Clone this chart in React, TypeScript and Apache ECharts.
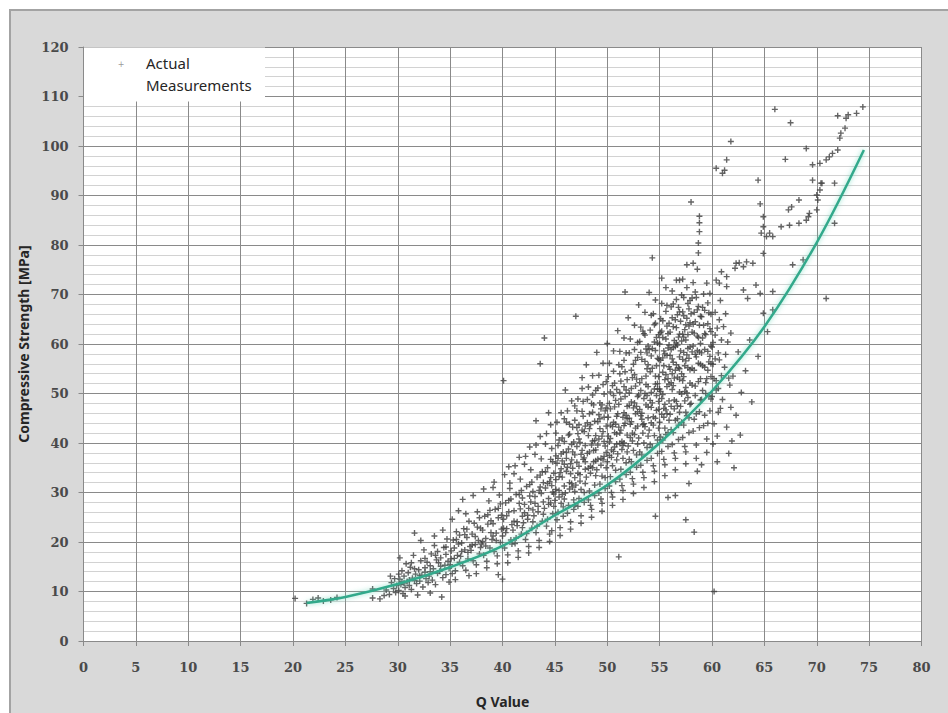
import React, { useEffect, useRef } from "react";
import * as echarts from "echarts";

// ---- Data ----
const xTicks = [0, 5, 10, 15, 20, 25, 30, 35, 40, 45, 50, 55, 60, 65, 70, 75, 80];
const yTicks = [0, 10, 20, 30, 40, 50, 60, 70, 80, 90, 100, 110, 120];

const fitCurve: [number, number][] = [
  [21.3, 7.7], [25, 8.9], [30, 11.5], [35, 14.9], [40, 19.2], [45, 25.4],
  [50, 31.5], [55, 40.0], [60, 50.5], [65, 63.5], [70, 80.5], [74.5, 99.2],
];

const ptsTail: [number, number][] = [
  [20.2, 8.6], [21.3, 7.6], [21.9, 8.4], [22.4, 8.7], [22.9, 8.1], [23.6, 8.3], [24.2, 8.8],
  [27.6, 8.7], [27.6, 10.5], [28.3, 8.5], [28.9, 10.3], [29.2, 9.4], [29.4, 11.8], [29.6, 10.6],
  [29.7, 12.6], [29.8, 9.8], [29.9, 11.2], [28.7, 9.2], [29.3, 13.1],
];

const pts30to35: [number, number][] = [
  [30.1, 10.2], [30.2, 12.5], [30.3, 11.4], [30.4, 14.2], [30.5, 9.6], [30.6, 13.1], [30.7, 10.8], [30.8, 15.6], [30.9, 12.0], [30.2, 16.8], [30.4, 11.9], [30.7, 9.1],
  [31.0, 13.8], [31.1, 11.2], [31.2, 14.9], [31.3, 10.4], [31.4, 12.7], [31.5, 17.3], [31.6, 21.8], [31.7, 13.5], [31.8, 11.6], [31.9, 9.3], [31.3, 15.8], [31.6, 12.2],
  [32.0, 14.4], [32.1, 12.1], [32.2, 16.2], [32.3, 13.3], [32.4, 10.9], [32.5, 18.4], [32.6, 14.8], [32.7, 12.6], [32.8, 15.9], [32.9, 11.8], [32.2, 20.3], [32.6, 13.9],
  [33.0, 13.1], [33.1, 15.2], [33.2, 17.6], [33.3, 12.3], [33.4, 14.6], [33.5, 19.3], [33.6, 11.4], [33.7, 16.4], [33.8, 13.7], [33.9, 15.8], [33.1, 9.7], [33.5, 21.2], [33.8, 18.1],
  [34.0, 14.1], [34.1, 16.8], [34.2, 8.9], [34.3, 12.8], [34.4, 18.9], [34.5, 15.3], [34.6, 13.4], [34.7, 20.6], [34.8, 16.1], [34.9, 14.7], [34.3, 22.4], [34.6, 17.5], [34.9, 11.9],
];

const pts35to40: [number, number][] = [
  [35.0, 15.4], [35.1, 18.2], [35.2, 13.6], [35.3, 20.4], [35.4, 16.7], [35.5, 14.2], [35.6, 22.1], [35.7, 17.3], [35.8, 19.6], [35.9, 15.9], [35.2, 24.6], [35.5, 12.4], [35.8, 26.3], [35.4, 18.8], [35.9, 21.4],
  [36.0, 17.1], [36.1, 19.8], [36.2, 15.2], [36.3, 22.7], [36.4, 18.4], [36.5, 14.3], [36.6, 20.9], [36.7, 16.6], [36.8, 24.2], [36.9, 19.1], [36.2, 28.6], [36.5, 25.7], [36.8, 13.2], [36.4, 21.5], [36.7, 17.9],
  [37.0, 18.3], [37.1, 21.6], [37.2, 16.2], [37.3, 23.8], [37.4, 19.5], [37.5, 15.4], [37.6, 26.1], [37.7, 20.3], [37.8, 17.6], [37.9, 22.8], [37.2, 29.4], [37.5, 13.6], [37.8, 24.9], [37.4, 21.1], [37.9, 18.9],
  [38.0, 19.6], [38.1, 22.4], [38.2, 17.3], [38.3, 25.2], [38.4, 20.7], [38.5, 16.1], [38.6, 23.6], [38.7, 28.3], [38.8, 18.8], [38.9, 21.9], [38.2, 30.7], [38.5, 14.8], [38.8, 26.4], [38.4, 19.2], [38.9, 24.3],
  [39.0, 20.5], [39.1, 23.7], [39.2, 18.1], [39.3, 26.6], [39.4, 21.8], [39.5, 17.2], [39.6, 24.9], [39.7, 29.5], [39.8, 19.9], [39.9, 22.6], [39.2, 32.1], [39.5, 15.6], [39.8, 27.7], [39.4, 20.3], [39.9, 25.4], [39.6, 13.4], [39.1, 31.0],
];

const pts40to45: [number, number][] = [
  [40.0, 21.2], [40.1, 24.6], [40.2, 18.8], [40.3, 27.9], [40.4, 22.7], [40.5, 17.4], [40.6, 26.1], [40.7, 30.8], [40.8, 20.4], [40.9, 23.5], [40.2, 33.6], [40.5, 15.8], [40.8, 28.7], [40.4, 25.3], [40.9, 19.6], [40.6, 35.2], [40.3, 21.9], [40.7, 31.9], [40.1, 52.6], [40.0, 12.5],
  [41.0, 22.4], [41.1, 26.3], [41.2, 19.7], [41.3, 29.6], [41.4, 24.1], [41.5, 18.2], [41.6, 27.8], [41.7, 32.7], [41.8, 21.6], [41.9, 25.2], [41.2, 35.4], [41.5, 16.9], [41.8, 30.4], [41.4, 23.3], [41.9, 28.9], [41.6, 37.1], [41.3, 20.8], [41.7, 26.7], [41.1, 33.8], [41.9, 22.9],
  [42.0, 23.9], [42.1, 27.6], [42.2, 20.5], [42.3, 31.2], [42.4, 25.4], [42.5, 19.1], [42.6, 29.3], [42.7, 34.6], [42.8, 22.8], [42.9, 26.5], [42.2, 37.3], [42.5, 17.8], [42.8, 32.1], [42.4, 24.6], [42.9, 30.2], [42.6, 39.2], [42.3, 21.7], [42.7, 28.1], [42.1, 35.7], [42.9, 24.1], [42.5, 26.8],
  [43.0, 25.3], [43.1, 29.2], [43.2, 21.9], [43.3, 33.1], [43.4, 27.2], [43.5, 20.3], [43.6, 31.1], [43.7, 36.8], [43.8, 24.2], [43.9, 28.1], [43.2, 39.6], [43.5, 18.9], [43.8, 34.2], [43.4, 26.1], [43.9, 32.0], [43.6, 41.3], [43.3, 23.2], [43.7, 29.8], [43.1, 37.7], [43.9, 25.6], [43.5, 30.4], [43.6, 56.0], [43.2, 44.5],
  [44.0, 26.8], [44.1, 30.9], [44.2, 23.2], [44.3, 35.0], [44.4, 28.8], [44.5, 21.6], [44.6, 33.0], [44.7, 38.9], [44.8, 25.7], [44.9, 29.7], [44.2, 41.9], [44.5, 20.1], [44.8, 36.2], [44.4, 27.6], [44.9, 33.9], [44.6, 43.7], [44.3, 24.6], [44.7, 31.4], [44.1, 39.8], [44.9, 27.2], [44.5, 32.2], [44.0, 61.2], [44.4, 46.1], [44.7, 22.3],
];

const pts45to50: [number, number][] = [
  [45.0, 28.4], [45.1, 32.6], [45.2, 24.5], [45.3, 36.9], [45.4, 30.4], [45.5, 22.9], [45.6, 34.8], [45.7, 41.0], [45.8, 27.1], [45.9, 31.3], [45.2, 44.2], [45.5, 21.3], [45.8, 38.2], [45.4, 29.1], [45.9, 35.7], [45.6, 46.1], [45.3, 26.0], [45.7, 33.1], [45.1, 42.0], [45.9, 28.7], [45.5, 34.0], [45.3, 39.5], [45.8, 25.2],
  [46.0, 29.9], [46.1, 34.3], [46.2, 25.8], [46.3, 38.8], [46.4, 32.0], [46.5, 24.1], [46.6, 36.6], [46.7, 43.2], [46.8, 28.5], [46.9, 33.0], [46.2, 46.5], [46.5, 22.6], [46.8, 40.2], [46.4, 30.7], [46.9, 37.6], [46.6, 48.5], [46.3, 27.4], [46.7, 34.9], [46.1, 44.2], [46.9, 30.2], [46.5, 35.8], [46.3, 41.6], [46.8, 26.6], [46.0, 50.7], [46.6, 31.8],
  [47.0, 31.5], [47.1, 36.1], [47.2, 27.2], [47.3, 40.8], [47.4, 33.6], [47.5, 25.3], [47.6, 38.5], [47.7, 45.4], [47.8, 30.0], [47.9, 34.7], [47.2, 48.9], [47.5, 23.8], [47.8, 42.3], [47.4, 32.3], [47.9, 39.5], [47.6, 51.0], [47.3, 28.8], [47.7, 36.7], [47.1, 46.5], [47.9, 31.8], [47.5, 37.7], [47.3, 43.7], [47.8, 28.0], [47.0, 65.6], [47.6, 53.2], [47.2, 33.9],
  [48.0, 33.1], [48.1, 37.9], [48.2, 28.5], [48.3, 42.9], [48.4, 35.3], [48.5, 26.6], [48.6, 40.4], [48.7, 47.7], [48.8, 31.5], [48.9, 36.4], [48.2, 51.3], [48.5, 25.0], [48.8, 44.4], [48.4, 33.9], [48.9, 41.5], [48.6, 53.6], [48.3, 30.3], [48.7, 38.5], [48.1, 48.8], [48.9, 33.4], [48.5, 39.6], [48.3, 45.9], [48.8, 29.4], [48.0, 55.8], [48.6, 35.0], [48.4, 27.4],
  [49.0, 34.6], [49.1, 39.6], [49.2, 29.9], [49.3, 44.9], [49.4, 36.9], [49.5, 27.8], [49.6, 42.3], [49.7, 49.9], [49.8, 33.0], [49.9, 38.1], [49.2, 53.7], [49.5, 26.2], [49.8, 46.5], [49.4, 35.5], [49.9, 43.4], [49.6, 56.1], [49.3, 31.7], [49.7, 40.3], [49.1, 51.1], [49.9, 35.0], [49.5, 41.4], [49.3, 48.1], [49.8, 30.8], [49.0, 58.3], [49.6, 36.6], [49.4, 28.7], [49.7, 45.2],
];

const pts50to55: [number, number][] = [
  [50.0, 36.2], [50.1, 41.4], [50.2, 31.3], [50.3, 46.9], [50.4, 38.6], [50.5, 29.1], [50.6, 44.2], [50.7, 52.1], [50.8, 34.5], [50.9, 39.8], [50.2, 56.1], [50.5, 27.4], [50.8, 48.6], [50.4, 37.1], [50.9, 45.4], [50.6, 58.6], [50.3, 33.2], [50.7, 42.1], [50.1, 53.4], [50.9, 36.6], [50.5, 43.3], [50.3, 50.3], [50.8, 32.2], [50.0, 60.1], [50.6, 38.3], [50.4, 30.0], [50.7, 47.3], [50.2, 40.2], [50.5, 35.4],
  [51.0, 37.8], [51.1, 43.2], [51.2, 32.7], [51.3, 48.9], [51.4, 40.3], [51.5, 30.4], [51.6, 46.1], [51.7, 54.4], [51.8, 36.0], [51.9, 41.6], [51.2, 58.5], [51.5, 28.6], [51.8, 50.7], [51.4, 38.7], [51.9, 47.4], [51.6, 61.2], [51.3, 34.7], [51.7, 44.0], [51.1, 55.8], [51.9, 38.2], [51.5, 45.2], [51.3, 52.5], [51.8, 33.6], [51.0, 62.7], [51.6, 40.0], [51.4, 31.4], [51.7, 49.4], [51.2, 42.0], [51.5, 36.9], [51.1, 17.0], [51.7, 70.5],
  [52.0, 39.4], [52.1, 45.0], [52.2, 34.1], [52.3, 51.0], [52.4, 42.0], [52.5, 31.7], [52.6, 48.1], [52.7, 56.7], [52.8, 37.6], [52.9, 43.4], [52.2, 61.0], [52.5, 29.8], [52.8, 52.9], [52.4, 40.4], [52.9, 49.4], [52.6, 63.8], [52.3, 36.2], [52.7, 45.9], [52.1, 58.2], [52.9, 39.8], [52.5, 47.1], [52.3, 54.7], [52.8, 35.1], [52.0, 65.3], [52.6, 41.7], [52.4, 32.8], [52.7, 51.5], [52.2, 43.8], [52.5, 38.5], [52.9, 57.3], [52.1, 36.7],
  [53.0, 41.0], [53.1, 46.8], [53.2, 35.5], [53.3, 53.0], [53.4, 43.7], [53.5, 33.0], [53.6, 50.0], [53.7, 59.0], [53.8, 39.1], [53.9, 45.1], [53.2, 63.4], [53.5, 31.0], [53.8, 55.0], [53.4, 42.0], [53.9, 51.4], [53.6, 66.4], [53.3, 37.6], [53.7, 47.7], [53.1, 60.5], [53.9, 41.4], [53.5, 49.0], [53.3, 56.9], [53.8, 36.5], [53.0, 67.9], [53.6, 43.3], [53.4, 34.1], [53.7, 53.5], [53.2, 45.5], [53.5, 40.0], [53.9, 59.6], [53.1, 38.2], [53.6, 61.8],
  [54.0, 42.6], [54.1, 48.6], [54.2, 36.9], [54.3, 55.1], [54.4, 45.3], [54.5, 34.3], [54.6, 51.9], [54.7, 61.3], [54.8, 40.6], [54.9, 46.8], [54.2, 65.8], [54.5, 32.2], [54.8, 57.1], [54.4, 43.6], [54.9, 53.4], [54.6, 68.9], [54.3, 39.1], [54.7, 49.6], [54.1, 62.8], [54.9, 43.0], [54.5, 50.9], [54.3, 59.1], [54.8, 37.9], [54.0, 70.4], [54.6, 45.0], [54.4, 35.4], [54.7, 55.6], [54.2, 47.2], [54.5, 41.5], [54.9, 61.9], [54.1, 39.7], [54.6, 64.2], [54.3, 77.4], [54.6, 25.2], [54.8, 52.0],
];

const pts55to58: [number, number][] = [
  [55.0, 44.2], [55.1, 50.4], [55.2, 38.3], [55.3, 57.2], [55.4, 47.0], [55.5, 35.6], [55.6, 53.8], [55.7, 63.6], [55.8, 42.1], [55.9, 48.5], [55.2, 68.2], [55.5, 33.4], [55.8, 59.2], [55.4, 45.2], [55.9, 55.4], [55.6, 71.4], [55.3, 40.6], [55.7, 51.4], [55.1, 65.1], [55.9, 44.6], [55.5, 52.8], [55.3, 61.3], [55.8, 39.3], [55.0, 60.0], [55.6, 46.7], [55.4, 36.7], [55.7, 57.7], [55.2, 49.0], [55.5, 43.0], [55.9, 64.2], [55.1, 41.2], [55.6, 66.6], [55.3, 54.3], [55.8, 29.0], [55.4, 58.6], [55.2, 73.3], [55.7, 45.9],
  [56.0, 45.8], [56.1, 52.2], [56.2, 39.7], [56.3, 59.3], [56.4, 48.7], [56.5, 36.9], [56.6, 55.8], [56.7, 65.9], [56.8, 43.6], [56.9, 50.3], [56.2, 70.7], [56.5, 34.6], [56.8, 61.4], [56.4, 46.9], [56.9, 57.4], [56.6, 72.9], [56.3, 42.1], [56.7, 53.3], [56.1, 67.5], [56.9, 46.2], [56.5, 54.7], [56.3, 63.5], [56.8, 40.7], [56.0, 62.4], [56.6, 48.4], [56.4, 38.0], [56.7, 59.8], [56.2, 50.8], [56.5, 44.6], [56.9, 66.5], [56.1, 42.7], [56.6, 69.0], [56.3, 56.3], [56.5, 29.4], [56.4, 60.7], [56.9, 72.9], [56.7, 47.5], [56.2, 57.0],
  [57.0, 47.4], [57.1, 54.0], [57.2, 41.1], [57.3, 61.4], [57.4, 50.4], [57.5, 38.2], [57.6, 57.8], [57.7, 68.2], [57.8, 45.1], [57.9, 52.1], [57.2, 73.1], [57.5, 35.8], [57.8, 63.6], [57.4, 48.5], [57.9, 59.4], [57.6, 76.0], [57.3, 43.6], [57.7, 55.2], [57.1, 69.9], [57.9, 47.8], [57.5, 56.6], [57.3, 65.7], [57.8, 42.1], [57.0, 64.6], [57.6, 50.1], [57.4, 39.3], [57.7, 61.9], [57.2, 52.6], [57.5, 46.2], [57.9, 68.8], [57.1, 44.2], [57.6, 71.4], [57.3, 58.3], [57.5, 24.5], [57.4, 62.9], [57.8, 31.8], [57.7, 49.2], [57.2, 56.9],
];

const pts58to62: [number, number][] = [
  [58.0, 48.0], [58.1, 55.1], [58.2, 42.4], [58.3, 62.2], [58.4, 51.5], [58.5, 39.6], [58.6, 58.7], [58.7, 67.6], [58.8, 46.3], [58.9, 53.0], [58.2, 72.4], [58.5, 36.9], [58.8, 63.8], [58.4, 49.6], [58.9, 60.1], [58.6, 75.1], [58.3, 44.8], [58.7, 56.1], [58.1, 69.3], [58.9, 48.7], [58.5, 57.4], [58.3, 66.4], [58.8, 43.1], [58.0, 88.7], [58.8, 85.8], [58.8, 84.5], [58.8, 82.7], [58.7, 80.4], [58.7, 78.4], [58.2, 76.3], [58.3, 22.0], [58.6, 34.3], [58.4, 64.5],
  [59.0, 48.8], [59.1, 55.6], [59.2, 43.5], [59.3, 62.1], [59.4, 52.2], [59.5, 40.8], [59.6, 58.5], [59.7, 66.3], [59.8, 46.5], [59.9, 53.4], [59.2, 70.1], [59.5, 38.1], [59.8, 63.1], [59.4, 50.0], [59.9, 59.6], [59.5, 72.3], [59.3, 45.6], [59.7, 56.4], [59.1, 67.4], [59.9, 48.9], [59.6, 44.0], [59.8, 70.2], [59.0, 35.6],
  [60.0, 49.4], [60.1, 55.9], [60.2, 43.9], [60.3, 61.8], [60.4, 52.6], [60.5, 41.4], [60.6, 58.2], [60.7, 64.9], [60.8, 47.0], [60.9, 53.6], [60.2, 10.0], [60.4, 72.9], [60.7, 72.3], [60.9, 74.6], [60.5, 36.2], [60.8, 68.8], [60.1, 39.8], [60.6, 46.2],
  [61.0, 48.8], [61.2, 55.3], [61.4, 43.2], [61.5, 60.4], [61.7, 51.7], [61.9, 40.4], [61.3, 66.1], [61.6, 37.9], [61.4, 73.6], [61.4, 71.6], [61.8, 47.2], [62.0, 53.5], [62.3, 45.6], [62.5, 58.4], [62.2, 75.3], [62.3, 76.3], [62.6, 76.4], [62.8, 50.2], [62.1, 35.0], [62.7, 41.6],
];

const ptsCoreExtra: [number, number][] = [
  [44.3, 31.8], [44.6, 36.7], [44.8, 30.1], [45.1, 37.4], [45.4, 33.2], [45.7, 29.6], [45.9, 40.3], [46.2, 35.1], [46.4, 41.8], [46.7, 31.1], [46.9, 44.6], [47.1, 39.3], [47.3, 35.3], [47.6, 42.6], [47.8, 37.0], [48.1, 44.1], [48.3, 38.2], [48.6, 46.2], [48.8, 40.5], [49.1, 36.7], [49.3, 42.9], [49.5, 47.7], [49.8, 39.4],
  [50.1, 45.2], [50.3, 40.9], [50.6, 49.6], [50.8, 43.8], [51.1, 47.8], [51.3, 42.6], [51.6, 51.4], [51.8, 45.6], [52.1, 50.1], [52.3, 44.3], [52.6, 53.8], [52.8, 47.4], [53.1, 52.2], [53.3, 46.0], [53.6, 56.5], [53.8, 49.6], [54.1, 54.4], [54.3, 48.1], [54.6, 58.7], [54.8, 50.9],
  [55.1, 56.7], [55.3, 49.8], [55.6, 61.0], [55.8, 53.0], [56.1, 58.9], [56.3, 51.6], [56.6, 63.3], [56.8, 55.2], [57.1, 60.6], [57.3, 53.4], [57.6, 65.2], [57.8, 57.1], [58.1, 62.4], [58.3, 54.7], [58.6, 66.9], [58.8, 58.4], [59.1, 61.2], [59.3, 55.3], [59.6, 64.1], [59.8, 57.5], [60.1, 60.3], [60.4, 50.7],
  [45.2, 35.9], [45.6, 27.8], [46.1, 38.1], [46.5, 33.8], [46.9, 27.4], [47.2, 41.9], [47.5, 30.6], [47.9, 43.4], [48.2, 34.9], [48.5, 48.0], [48.9, 38.6], [49.2, 45.7], [49.5, 33.3], [49.9, 47.1], [50.2, 37.5], [50.5, 51.6], [50.9, 41.8], [51.2, 54.0], [51.5, 39.5], [51.9, 52.8],
  [52.2, 41.1], [52.5, 55.9], [52.9, 46.3], [53.2, 58.3], [53.5, 43.9], [53.9, 55.8], [54.2, 50.2], [54.5, 60.4], [54.9, 48.4], [55.2, 62.6], [55.5, 47.8], [55.9, 59.8], [56.2, 54.0], [56.5, 64.9], [56.9, 52.9], [57.2, 62.0], [57.5, 51.2], [57.9, 64.3], [58.2, 59.6], [58.5, 69.4], [58.9, 55.9], [59.2, 63.8], [59.5, 53.0], [59.9, 62.5], [60.3, 57.0], [60.6, 51.0],
  [55.1, 62.3], [55.4, 55.6], [55.7, 67.8], [56.0, 57.7], [56.3, 68.1], [56.6, 60.2], [56.9, 62.0], [57.2, 66.5], [57.5, 60.8], [57.8, 67.1], [58.1, 58.4], [58.4, 70.5], [58.7, 61.3], [59.0, 65.5], [59.3, 58.9], [59.6, 68.3], [59.9, 56.0],
  [54.2, 57.6], [54.5, 63.9], [54.8, 60.2], [53.5, 62.1], [53.8, 58.2], [53.2, 50.6], [52.6, 58.9], [52.3, 48.3], [51.6, 56.7], [51.2, 50.2], [50.6, 54.5], [50.2, 48.0], [49.6, 51.8], [49.1, 44.3], [48.6, 49.7], [48.2, 41.5], [47.6, 46.4], [47.1, 43.1], [46.6, 39.7], [46.1, 36.9], [45.6, 37.8], [45.1, 30.6],
  [44.6, 27.9], [44.1, 34.2], [43.6, 33.5], [43.1, 27.8], [42.6, 31.6], [42.1, 25.9], [41.6, 29.6], [41.1, 24.2], [40.6, 28.4], [40.1, 22.8], [39.6, 26.8], [39.1, 21.2], [38.6, 25.5], [38.1, 20.1], [37.6, 23.0], [37.1, 19.4], [36.6, 22.6], [36.1, 18.1], [35.6, 20.5], [35.1, 16.6],
  [34.6, 19.0], [34.1, 15.1], [33.6, 17.3], [33.1, 14.0], [32.6, 16.7], [32.1, 13.2], [31.6, 14.6], [31.1, 12.3], [30.6, 11.7], [30.1, 13.5],
];

const ptsCoreDense: [number, number][] = [
  [52.1, 47.6], [52.4, 53.2], [52.7, 43.0], [52.9, 60.3], [53.0, 49.7], [53.3, 44.8], [53.4, 62.6], [53.7, 51.8], [53.9, 47.3], [54.0, 58.9], [54.2, 44.1], [54.4, 66.1], [54.6, 53.5], [54.7, 46.6], [54.9, 56.9],
  [55.0, 50.9], [55.2, 45.8], [55.3, 64.7], [55.5, 58.0], [55.6, 41.7], [55.8, 62.1], [55.9, 51.9], [56.0, 54.9], [56.1, 47.4], [56.2, 65.3], [56.4, 53.1], [56.5, 59.5], [56.7, 44.9], [56.8, 67.4], [56.9, 55.0],
  [57.0, 58.6], [57.1, 49.9], [57.3, 69.4], [57.4, 55.6], [57.5, 63.9], [57.6, 45.5], [57.7, 59.1], [57.9, 54.8], [58.0, 66.1], [58.1, 51.7], [58.2, 64.0], [58.4, 57.9], [58.5, 45.9], [58.6, 61.6], [58.7, 52.4],
  [58.9, 65.6], [59.0, 58.2], [59.1, 50.6], [59.3, 66.8], [59.4, 61.9], [59.6, 54.7], [59.7, 49.6], [59.9, 66.0], [60.0, 59.4], [60.2, 53.0], [60.3, 66.4], [60.5, 63.2], [60.7, 56.8], [60.9, 60.8], [61.1, 63.5],
  [61.3, 57.9], [61.6, 53.1], [61.8, 62.2], [50.3, 43.6], [50.7, 39.2], [50.9, 50.8], [51.0, 45.9], [51.2, 39.9], [51.4, 55.4], [51.6, 43.5], [51.8, 58.2], [51.9, 44.9], [49.2, 40.8], [49.4, 46.9], [49.7, 37.3],
  [49.9, 52.4], [48.4, 43.7], [48.7, 36.2], [48.9, 50.6], [47.4, 40.1], [47.7, 48.4], [47.9, 36.2], [46.4, 43.8], [46.7, 38.2], [46.9, 47.5], [45.4, 40.6], [45.7, 36.4], [45.9, 44.9],
];

const ptsUpper: [number, number][] = [
  [63.0, 75.6], [63.3, 76.6], [63.9, 76.3], [63.0, 70.9], [63.4, 69.2], [63.2, 54.6], [63.6, 60.8], [63.8, 48.3], [64.2, 71.9], [64.6, 70.2], [64.9, 66.2], [64.4, 57.5], [64.9, 78.3],
  [64.4, 93.1], [64.6, 88.3], [64.9, 85.7], [64.9, 83.7], [64.7, 82.4], [65.2, 81.7], [65.8, 81.7], [65.5, 82.4], [65.8, 70.6], [65.8, 66.9], [66.0, 107.4], [65.3, 62.5],
  [66.6, 83.7], [67.4, 84.0], [68.3, 84.4], [69.0, 85.0], [69.3, 86.4], [69.2, 85.7], [70.0, 87.1], [70.1, 89.1], [70.3, 91.1], [70.4, 92.5], [67.6, 87.7], [67.3, 87.1], [68.3, 89.1],
  [67.5, 104.7], [67.0, 97.3], [69.0, 99.5], [69.6, 96.2], [70.3, 96.5], [70.9, 97.2], [71.2, 97.8], [71.5, 98.5], [72.0, 99.2], [72.2, 101.6], [72.3, 102.6], [72.7, 103.6], [72.8, 105.6],
  [73.0, 106.3], [73.8, 106.6], [74.4, 107.9], [72.0, 106.1], [71.7, 92.5], [70.5, 92.5], [71.7, 84.4], [70.9, 69.2], [70.0, 90.1], [69.6, 93.1], [67.7, 76.0], [68.7, 77.0],
  [61.8, 100.9], [61.4, 97.2], [60.4, 95.5], [61.2, 95.1], [61.0, 94.5],
];

const seriesName = "Actual Measurements";
const legendLines = ["Actual", "Measurements"];
const xTitle = "Q Value";
const yTitle = "Compressive Strength [MPa]";

const PLUS = "path://M2,0h1.2v2h2v1.2h-2v2h-1.2v-2h-2v-1.2h2z";

export default function App() {
  const ref = useRef<HTMLDivElement>(null);
  useEffect(() => {
    if (!ref.current) return;
    const chart = echarts.init(ref.current, undefined, { renderer: "svg" });
    const scatter = [
      ...ptsTail, ...pts30to35, ...pts35to40, ...pts40to45, ...pts45to50,
      ...pts50to55, ...pts55to58, ...pts58to62, ...ptsCoreExtra, ...ptsCoreDense, ...ptsUpper,
    ];
    const left = 83.5, top = 47, width = 838, height = 594;
    const axisGray = "#8a8a8a";
    const labelStyle = { color: "#4a4a4a", fontFamily: "DejaVu Serif", fontSize: 13, fontWeight: "bold" as const };
    const titleStyle = { fontFamily: "Noto Sans", fontWeight: "bold" as const, fontSize: 14, color: "#262626" };
    chart.setOption({
      animation: false,
      backgroundColor: "transparent",
      grid: { left, top, width, height, show: true, backgroundColor: "#ffffff", borderWidth: 0 },
      xAxis: {
        type: "value", min: xTicks[0], max: xTicks[xTicks.length - 1], interval: xTicks[1] - xTicks[0],
        name: xTitle, nameLocation: "middle", nameGap: 53, nameTextStyle: titleStyle,
        axisLine: { show: true, lineStyle: { color: axisGray, width: 1 } },
        axisTick: { show: true, length: 5, lineStyle: { color: axisGray } },
        axisLabel: { ...labelStyle, margin: 20 },
        splitLine: { show: true, lineStyle: { color: axisGray, width: 1 } },
      },
      yAxis: {
        type: "value", min: yTicks[0], max: yTicks[yTicks.length - 1], interval: yTicks[1] - yTicks[0],
        name: yTitle, nameLocation: "middle", nameGap: 50, nameRotate: 90, nameTextStyle: titleStyle,
        axisLine: { show: true, lineStyle: { color: axisGray, width: 1 } },
        axisTick: { show: true, length: 5, lineStyle: { color: axisGray } },
        axisLabel: { ...labelStyle, margin: 15 },
        splitLine: { show: true, lineStyle: { color: axisGray, width: 1 } },
        minorTick: { show: false, splitNumber: 5 },
        minorSplitLine: { show: true, lineStyle: { color: "#d2d2d2", width: 1 } },
      },
      series: [
        {
          name: seriesName, type: "scatter", data: scatter, symbol: PLUS, symbolSize: 6,
          itemStyle: { color: "#3d3d3d", opacity: 0.8 }, silent: true, z: 2,
        },
        {
          name: "Fit", type: "line", data: fitCurve, smooth: 0.35, symbol: "none", silent: true, z: 3,
          lineStyle: { color: "#32a98b", width: 2.5, shadowBlur: 5, shadowColor: "rgba(90,210,180,0.7)" },
        },
      ],
      graphic: [
        { type: "rect", z: 100, shape: { x: 84, y: 47.5, width: 181, height: 54 }, style: { fill: "#ffffff" } },
        { type: "text", z: 101, x: 121, y: 64, style: { text: "+", fill: "#9a9a9a", fontSize: 8, align: "center", verticalAlign: "middle", fontFamily: "DejaVu Sans" } },
        {
          type: "text", z: 101, x: 146, y: 52,
          style: { text: legendLines.join("\n"), fill: "#262626", fontSize: 15, lineHeight: 22, fontFamily: "Noto Sans", verticalAlign: "top" },
        },
      ],
    });
    return () => chart.dispose();
  }, []);
  return (
    <div style={{ position: "fixed", left: 0, top: 0, width: 948, height: 713, background: "#ffffff", overflow: "hidden" }}>
      <div style={{ position: "absolute", left: 9, top: 9, width: 960, height: 730, background: "#d9d9d9", border: "2px solid #a3a3a3" }} />
      <div ref={ref} style={{ position: "absolute", left: 0, top: 0, width: 948, height: 713 }} />
    </div>
  );
}
